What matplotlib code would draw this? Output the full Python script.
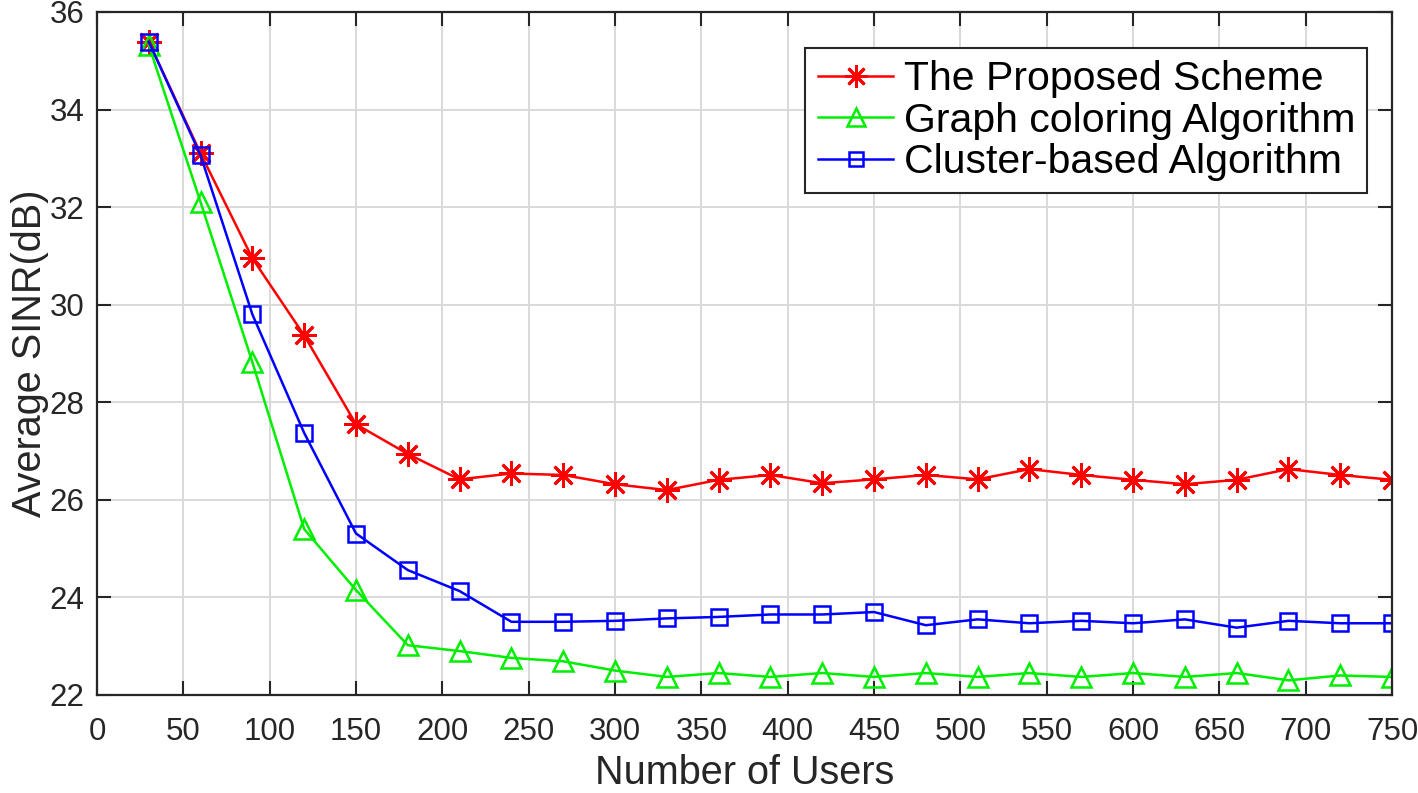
import numpy as np
import matplotlib
matplotlib.use("Agg")
import matplotlib.pyplot as plt

# Datos ---------------------------------------------------------------------
usuarios = [30, 60, 90, 120, 150, 180, 210, 240, 270, 300, 330, 360, 390,
            420, 450, 480, 510, 540, 570, 600, 630, 660, 690, 720, 750]

propuesto = [35.39, 33.10, 30.95, 29.37, 27.55, 26.94, 26.42, 26.54, 26.51,
             26.32, 26.20, 26.41, 26.51, 26.34, 26.42, 26.51, 26.42, 26.63,
             26.51, 26.41, 26.32, 26.41, 26.63, 26.51, 26.41]

coloreo_grafo = [35.32, 32.10, 28.82, 25.40, 24.15, 23.02, 22.90, 22.76, 22.69,
                 22.50, 22.37, 22.45, 22.37, 22.45, 22.37, 22.45, 22.37, 22.45,
                 22.37, 22.45, 22.37, 22.45, 22.30, 22.40, 22.37]

cluster = [35.39, 33.06, 29.80, 27.37, 25.31, 24.56, 24.13, 23.50, 23.50,
           23.52, 23.57, 23.60, 23.65, 23.65, 23.70, 23.43, 23.55, 23.47,
           23.52, 23.47, 23.55, 23.38, 23.52, 23.47, 23.47]

etiquetas = ["The Proposed Scheme", "Graph coloring Algorithm",
             "Cluster-based Algorithm"]

# Grafico -------------------------------------------------------------------
plt.rcParams["font.family"] = ["Liberation Sans", "DejaVu Sans"]

fig = plt.figure(figsize=(14.18, 7.93), dpi=100)
ax = fig.add_axes([0.0684, 0.1236, 0.9133, 0.8613])

ax.plot(usuarios, propuesto, color="red", lw=1.8, marker=(8, 2, 0),
        ms=18, mew=2.0, label=etiquetas[0])
ax.plot(usuarios, coloreo_grafo, color="#00ee00", lw=1.8, marker="^",
        ms=14, mew=1.8, mfc="none", label=etiquetas[1])
ax.plot(usuarios, cluster, color="blue", lw=1.8, marker="s",
        ms=11, mew=1.8, mfc="none", label=etiquetas[2])

ax.set_xlim(0, 750)
ax.set_ylim(22, 36)
ax.set_xticks(np.arange(0, 751, 50))
ax.set_yticks(np.arange(22, 37, 2))
ax.grid(True, color="#d9d9d9", lw=1.4)
ax.tick_params(direction="in", length=10, width=1.5, labelsize=22.5,
               top=True, right=True, colors="#262626")
ax.tick_params(axis="x", pad=16)
ax.tick_params(axis="y", pad=9)
for s in ax.spines.values():
    s.set_linewidth(1.6)
    s.set_color("#262626")

ax.set_xlabel("Number of Users", fontsize=28.5, labelpad=5, color="#262626")
ax.set_ylabel("Average SINR(dB)", fontsize=28.5, labelpad=0, color="#262626")

leg = ax.legend(loc="upper right", bbox_to_anchor=(0.981, 0.947), fontsize=29.5,
                fancybox=False, framealpha=1, edgecolor="#262626",
                handlelength=1.85, handletextpad=0.25, labelspacing=0.08,
                borderpad=0.3, borderaxespad=0)
leg.get_frame().set_linewidth(1.5)
for h in leg.legend_handles:
    h.set_markersize(h.get_markersize() * 0.9)

fig.savefig("out.png", dpi=100)
